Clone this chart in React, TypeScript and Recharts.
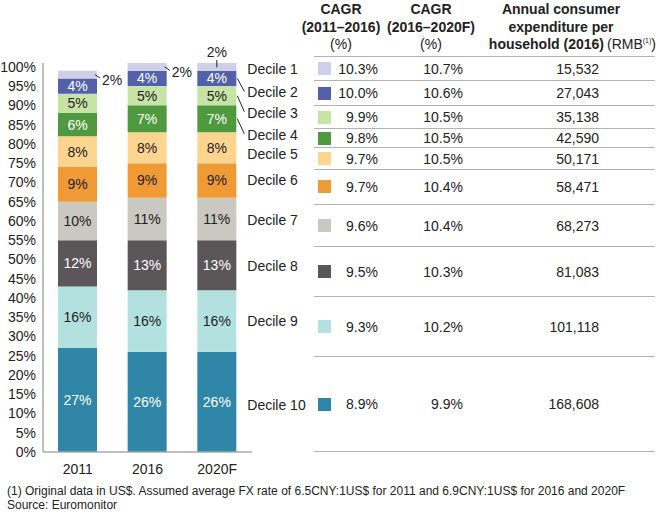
import React from "react";
import { BarChart, Bar, XAxis, YAxis, LabelList } from "recharts";

const years = ["2011", "2016", "2020F"];
const deciles = ["Decile 1", "Decile 2", "Decile 3", "Decile 4", "Decile 5", "Decile 6", "Decile 7", "Decile 8", "Decile 9", "Decile 10"];
const share2011 = [2, 4, 5, 6, 8, 9, 10, 12, 16, 27];
const share2016 = [2, 4, 5, 7, 8, 9, 11, 13, 16, 26];
const share2020F = [2, 4, 5, 7, 8, 9, 11, 13, 16, 26];
const cagr2011to2016 = ["10.3%", "10.0%", "9.9%", "9.8%", "9.7%", "9.7%", "9.6%", "9.5%", "9.3%", "8.9%"];
const cagr2016to2020F = ["10.7%", "10.6%", "10.5%", "10.5%", "10.5%", "10.4%", "10.4%", "10.3%", "10.2%", "9.9%"];
const spend2016 = [15532, 27043, 35138, 42590, 50171, 58471, 68273, 81083, 101118, 168608];
const yTicks = [0, 5, 10, 15, 20, 25, 30, 35, 40, 45, 50, 55, 60, 65, 70, 75, 80, 85, 90, 95, 100];

const colors = ["#cdd0e6", "#5261aa", "#c8e3a6", "#4f9a3f", "#fdd58f", "#ef9a35", "#c9c8c1", "#5b5657", "#b2e1e0", "#2f86a7"];
const textColors = ["#222", "#fff", "#222", "#fff", "#222", "#222", "#222", "#fff", "#222", "#fff"];

// layout tweaks for the decile names next to the last bar
const nameNudge = [2, 14, 17, 16, 6, 0, 1, 1, 0, 3];
const rowHeights = [24.5, 25, 23, 19, 21.5, 35, 42.5, 50, 60, 96];
const tableTop = 56.5;

const FONT = "'Liberation Sans', Arial, Helvetica, sans-serif";
const keys = deciles.map((_, i) => `d${i + 1}`);
const shares = [share2011, share2016, share2020F];
const data = years.map((year, j) => {
  const row: Record<string, string | number> = { year };
  keys.forEach((k, i) => (row[k] = shares[j][i]));
  return row;
});

function makeLabel(di: number) {
  return (props: any) => {
    const vb = props.viewBox || props;
    const { x, y, width: w, height: h } = vb;
    const index = props.index;
    const cx = x + w / 2;
    const cy = y + h / 2;
    const txt = `${props.value}%`;
    const parts: React.ReactNode[] = [];
    if (di === 0) {
      if (index < 2) {
        parts.push(<line key="l" x1={x + w - 2} y1={cy} x2={x + w + 3} y2={cy + 3.5} stroke="#222" strokeWidth={1} />);
        parts.push(
          <text key="t" x={x + w + 5} y={cy + 5} fontSize={14} fill="#222" dominantBaseline="central" fontFamily={FONT}>{txt}</text>
        );
      } else {
        parts.push(<line key="l" x1={cx} y1={y - 3} x2={cx} y2={cy + 0.5} stroke="#222" strokeWidth={1} />);
        parts.push(
          <text key="t" x={cx} y={y - 11.5} fontSize={14} fill="#222" textAnchor="middle" dominantBaseline="central" fontFamily={FONT}>{txt}</text>
        );
      }
    } else {
      parts.push(
        <text key="t" x={cx} y={cy} fontSize={14} fill={textColors[di]} textAnchor="middle" dominantBaseline="central" fontFamily={FONT}>{txt}</text>
      );
    }
    if (index === 2) {
      const ny = cy + nameNudge[di];
      if (di >= 1 && di <= 3) {
        parts.push(<line key="nl" x1={x + w + 1} y1={cy} x2={x + w + 8} y2={ny - 1} stroke="#222" strokeWidth={1} />);
      }
      parts.push(
        <text key="n" x={x + w + 11} y={ny} fontSize={14} fill="#222" dominantBaseline="central" fontFamily={FONT}>{deciles[di]}</text>
      );
    }
    return <g>{parts}</g>;
  };
}

const headStyle: React.CSSProperties = { position: "absolute", top: 1, textAlign: "center", lineHeight: "17.5px", fontSize: 14, color: "#222", whiteSpace: "nowrap" };

export default function App() {
  let top = tableTop;
  const rowTops = rowHeights.map((h) => {
    const t = top;
    top += h;
    return t;
  });
  return (
    <div style={{ position: "absolute", left: 0, top: 0, width: 661, height: 514, background: "#fff", fontFamily: FONT, color: "#222", overflow: "hidden" }}>
      <BarChart width={661} height={514} data={data} margin={{ top: 63, right: 409, bottom: 0, left: 0 }}>
        <XAxis
          dataKey="year"
          height={62}
          tickLine={false}
          tickMargin={6}
          axisLine={{ stroke: "#a8a8a8", strokeWidth: 1.5 }}
          tick={{ fontSize: 14, fill: "#222", fontFamily: FONT }}
        />
        <YAxis
          domain={[0, 100]}
          ticks={yTicks}
          interval={0}
          width={43}
          tickLine={false}
          tickSize={5}
          tickMargin={2}
          tickFormatter={(v) => `${v}%`}
          axisLine={{ stroke: "#a8a8a8", strokeWidth: 1.5 }}
          tick={{ fontSize: 14, fill: "#222", fontFamily: FONT }}
        />
        {keys
          .map((k, i) => (
            <Bar key={k} dataKey={k} stackId="s" fill={colors[i]} barSize={39} isAnimationActive={false}>
              <LabelList dataKey={k} content={makeLabel(i)} />
            </Bar>
          ))
          .reverse()}
      </BarChart>

      <div style={{ ...headStyle, left: 291, width: 100, fontWeight: "bold" }}>
        CAGR<br />(2011–2016)<br /><span style={{ fontWeight: "normal" }}>(%)</span>
      </div>
      <div style={{ ...headStyle, left: 380, width: 102, fontWeight: "bold" }}>
        CAGR<br />(2016–2020F)<br /><span style={{ fontWeight: "normal" }}>(%)</span>
      </div>
      <div style={{ ...headStyle, left: 466, width: 190, fontWeight: "bold" }}>
        Annual consumer<br />expenditure per
      </div>
      <div style={{ ...headStyle, top: 36, right: 5, textAlign: "right", fontWeight: "bold" }}>
        household (2016)
        <span style={{ fontWeight: "normal", marginLeft: 3 }}>
          (RMB<sup style={{ fontSize: 7, lineHeight: 0 }}>(1)</sup>)
        </span>
      </div>

      {deciles.map((d, i) => (
        <div
          key={d}
          style={{
            position: "absolute",
            left: 314,
            width: 341,
            top: rowTops[i] - 0.75,
            height: rowHeights[i],
            borderTop: "1.5px solid #b3b3b3",
            borderBottom: i === deciles.length - 1 ? "1.5px solid #b3b3b3" : undefined,
            boxSizing: "border-box",
            fontSize: 14,
          }}
        >
          <div style={{ position: "absolute", inset: 0, display: "flex", alignItems: "center" }}>
            <div style={{ position: "absolute", left: 4, width: 13, height: 13, background: colors[i] }} />
            <div style={{ position: "absolute", left: 0, width: 64, textAlign: "right" }}>{cagr2011to2016[i]}</div>
            <div style={{ position: "absolute", left: 0, width: 149, textAlign: "right" }}>{cagr2016to2020F[i]}</div>
            <div style={{ position: "absolute", left: 0, width: 285, textAlign: "right" }}>{spend2016[i].toLocaleString("en-US")}</div>
          </div>
        </div>
      ))}

      <div style={{ position: "absolute", left: 7, top: 484, fontSize: 12, lineHeight: "14px", whiteSpace: "nowrap" }}>
        (1) Original data in US$. Assumed average FX rate of 6.5CNY:1US$ for 2011 and 6.9CNY:1US$ for 2016 and 2020F
        <br />
        Source: Euromonitor
      </div>
    </div>
  );
}
